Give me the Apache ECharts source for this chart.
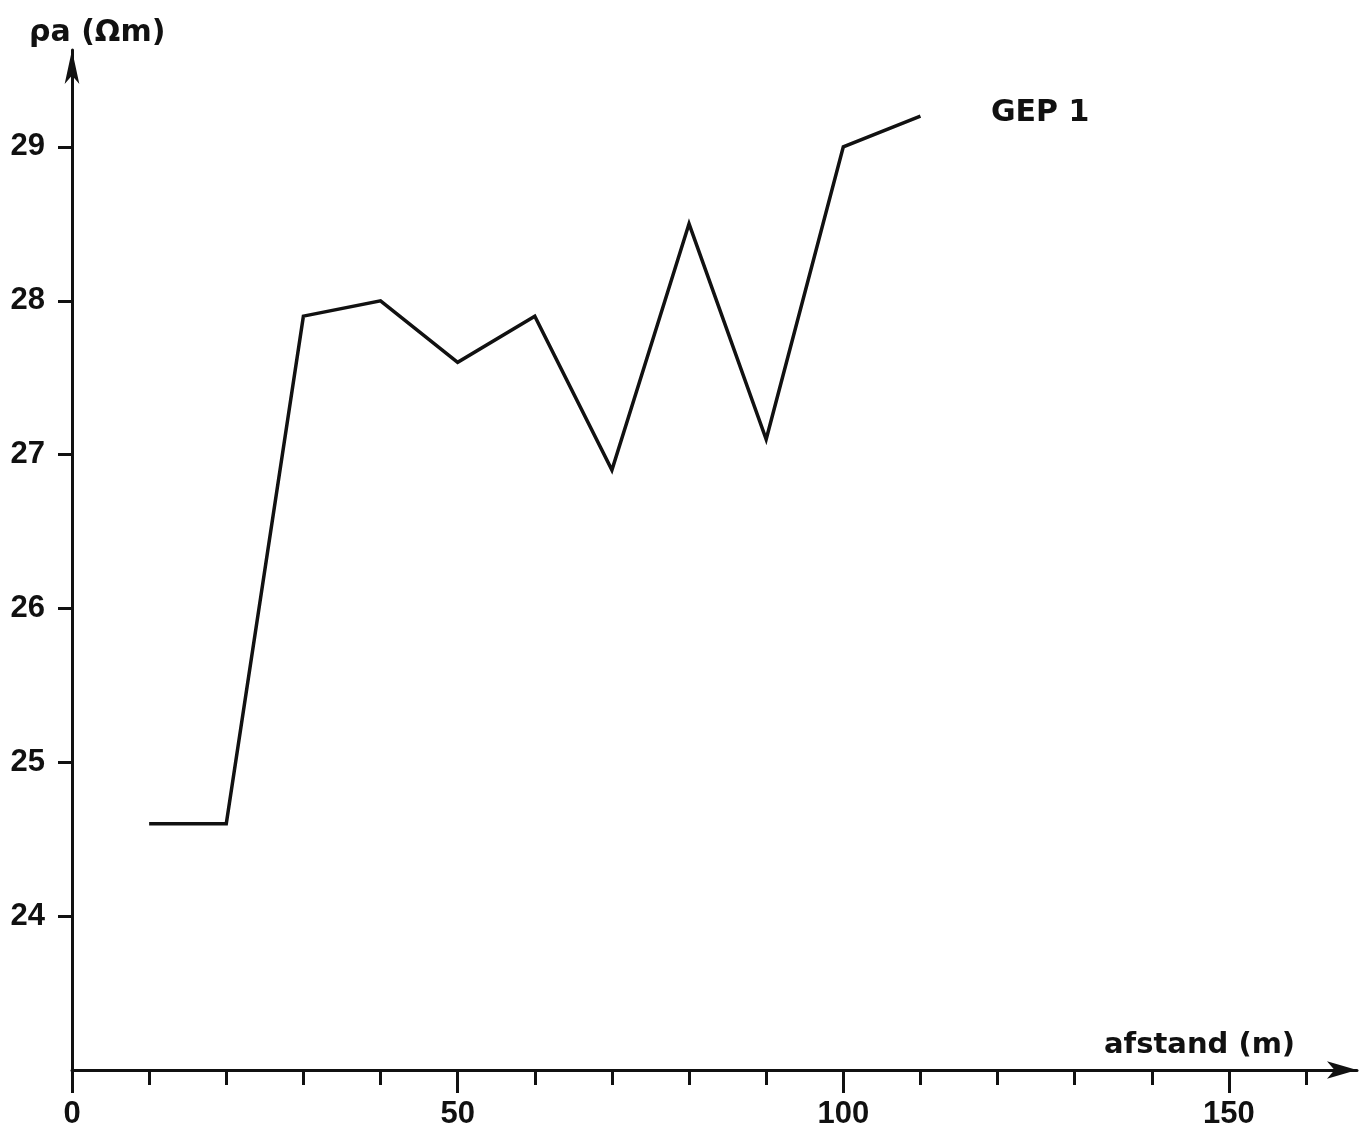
<!DOCTYPE html>
<html>
<head>
<meta charset="utf-8">
<script src="https://cdn.jsdelivr.net/npm/echarts@6/dist/echarts.min.js"></script>
<style>
  html, body { margin: 0; padding: 0; background: #fff; }
  #chart { width: 1361px; height: 1138px; }
</style>
</head>
<body>
<div id="chart"></div>
<script>
// Apparent resistivity profile GEP 1
const seriesName = 'GEP 1';
const distances = [10, 20, 30, 40, 50, 60, 70, 80, 90, 100, 110];
const resistivity = [24.6, 24.6, 27.9, 28.0, 27.6, 27.9, 26.9, 28.5, 27.1, 29.0, 29.2];
const xMinorTicks = [10, 20, 30, 40, 60, 70, 80, 90, 110, 120, 130, 140, 160];
const xMajorTicks = [0, 50, 100, 150];
const yTicks = [24, 25, 26, 27, 28, 29];
const yAxisTitle = 'ρa (Ωm)';
const xAxisTitle = 'afstand (m)';

const ink = '#111';
const numFont = 'Liberation Sans';
const textFont = 'DejaVu Sans';
const X_MAX = 166.6;
const Y_MIN = 23;
const Y_MAX = 29.63;

const chart = echarts.init(document.getElementById('chart'));

const xBase = {
  type: 'value',
  min: 0,
  max: X_MAX,
  position: 'bottom',
  splitLine: { show: false }
};

chart.setOption({
  backgroundColor: '#fff',
  animation: false,
  grid: { left: 72, right: 4, top: 50, bottom: 68, containLabel: false },
  xAxis: [
    Object.assign({}, xBase, {
      axisLine: {
        show: true,
        symbol: ['none', 'arrow'],
        symbolSize: [13, 30],
        lineStyle: { color: ink, width: 3 }
      },
      axisTick: { show: true, customValues: xMinorTicks, length: 15, lineStyle: { color: ink, width: 3 } },
      axisLabel: { show: false }
    }),
    Object.assign({}, xBase, {
      axisLine: { show: false },
      axisTick: { show: true, customValues: xMajorTicks, length: 23, lineStyle: { color: ink, width: 3 } },
      axisLabel: {
        show: true,
        customValues: xMajorTicks,
        margin: 29,
        color: ink,
        fontFamily: numFont,
        fontWeight: 'bold',
        fontSize: 31
      }
    })
  ],
  yAxis: {
    type: 'value',
    min: Y_MIN,
    max: Y_MAX,
    splitLine: { show: false },
    axisLine: {
      show: true,
      symbol: ['none', 'arrow'],
      symbolSize: [11, 34],
      lineStyle: { color: ink, width: 3 }
    },
    axisTick: { show: true, customValues: yTicks, length: 14, lineStyle: { color: ink, width: 3 } },
    axisLabel: {
      show: true,
      customValues: yTicks,
      margin: 27,
      color: ink,
      fontFamily: numFont,
      fontWeight: 'bold',
      fontSize: 31
    }
  },
  graphic: [
    {
      type: 'text',
      left: 29,
      top: 18,
      style: { text: yAxisTitle, fill: ink, font: 'bold 30px "' + textFont + '"' }
    },
    {
      type: 'text',
      left: 1104,
      top: 1031,
      style: { text: xAxisTitle, fill: ink, font: 'bold 29px "' + textFont + '"' }
    },
    {
      type: 'text',
      left: 991,
      top: 98,
      style: { text: seriesName, fill: ink, font: 'bold 30px "' + textFont + '"' }
    }
  ],
  series: [
    {
      name: seriesName,
      type: 'line',
      xAxisIndex: 0,
      data: distances.map((d, i) => [d, resistivity[i]]),
      showSymbol: false,
      symbol: 'none',
      lineStyle: { color: ink, width: 3.5, join: 'miter' }
    }
  ]
});
</script>
</body>
</html>
